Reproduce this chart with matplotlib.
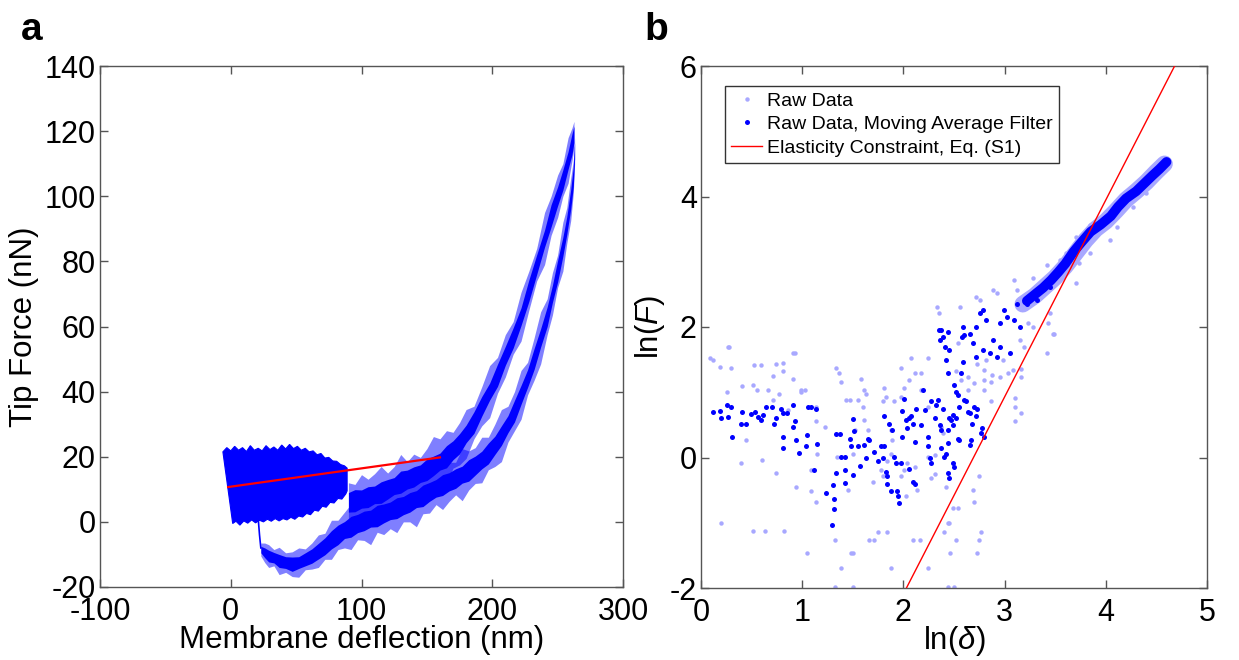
import numpy as np
import matplotlib
matplotlib.use("Agg")
import matplotlib.pyplot as plt

plt.rcParams['font.family'] = ['Liberation Sans', 'DejaVu Sans']
plt.rcParams['mathtext.fontset'] = 'custom'
plt.rcParams['mathtext.rm'] = 'Liberation Sans'
plt.rcParams['mathtext.it'] = 'Liberation Sans:italic'
plt.rcParams['axes.unicode_minus'] = False

# ---------------- Panel a data ----------------
# dense oscillating block (envelope)
block_top_x = [-6, -3, 0, 3, 6, 9, 12, 15, 18, 21, 24, 27, 30, 33, 36, 39, 42, 45, 48, 51, 54, 57, 60, 63, 66, 69, 72, 75, 78, 81, 84, 87, 89]
block_top_F = [21.5, 22.8, 21.8, 23.2, 22.0, 22.8, 21.6, 23.4, 22.0, 22.6, 21.8, 23.4, 22.2, 23.0, 22.0, 23.6, 22.4, 23.8, 22.5, 23.2, 22.0, 22.6, 21.5, 21.8, 20.6, 21.0, 19.6, 19.8, 18.7, 18.6, 17.6, 17.2, 16.5]
block_bot_x = [1.5, 4, 7, 10, 13, 16, 19, 22, 25, 28, 31, 34, 37, 40, 43, 46, 49, 52, 55, 58, 61, 64, 67, 70, 73, 76, 79, 82, 85, 88, 89]
block_bot_F = [-0.5, 0.2, -1.0, 0.3, -0.4, 0.6, -0.3, 0.5, 0.0, 0.8, 0.2, 1.0, 0.3, 1.0, 0.6, 1.4, 0.8, 1.8, 1.5, 2.6, 2.2, 3.6, 3.3, 4.8, 4.5, 6.0, 5.8, 7.2, 7.0, 8.6, 9.5]

# drop from block to trough
drop_x = [21, 22, 23]
drop_F = [1.0, -4.0, -8.0]

# lower (retract) branch: centre and noise half widths
lb_x = [23, 26, 29, 33, 37, 42, 47, 52, 57, 62, 67, 72, 77, 82, 87, 92, 97, 102, 107, 112, 117, 122, 127, 132, 137, 142, 147, 152, 157, 162, 167, 172, 177, 182, 187, 192, 197, 202, 207, 212, 217, 222, 227, 232, 237, 242, 246, 250, 254, 257, 260, 262, 263]
lb_F = [-8.5, -9.5, -10.5, -11, -12, -12.5, -13, -12.5, -11.5, -10.5, -9, -7.5, -5.5, -4, -2.5, -1.5, -0.5, 0.3, 1, 1.8, 2.6, 3.4, 4.2, 5, 6, 7, 8, 9.2, 10.3, 11.3, 12.3, 13.3, 14.5, 15.8, 17.3, 19, 21, 23.5, 26.5, 30, 34, 39, 44, 50, 56.5, 63, 70, 77, 84.5, 91, 99, 106, 114]
lb_core = [1.0, 1.5, 1.8, 1.6, 2.0, 1.8, 2.2, 1.8, 2.0, 2.2, 2.4, 2.6, 2.8, 3.0, 2.6, 3.2, 2.8, 3.0, 2.6, 3.3, 2.9, 2.7, 3.2, 2.8, 3.0, 2.6, 3.3, 2.9, 2.7, 3.2, 2.8, 3.0, 2.6, 3.3, 2.9, 2.7, 3.2, 2.8, 3.0, 2.6, 3.3, 2.9, 2.7, 3.2, 2.8, 3.0, 2.6, 3.3, 2.9, 2.7, 3.0, 3.0, 2.5]
lb_outer = [2.0, 3.0, 3.5, 2.5, 4.2, 3.0, 3.8, 4.5, 3.2, 4.0, 5.0, 4.0, 6.0, 4.5, 5.5, 7.0, 5.0, 6.0, 8.0, 5.0, 6.5, 5.5, 7.5, 5.0, 6.0, 8.5, 5.5, 6.5, 5.0, 7.5, 6.0, 5.0, 8.0, 6.0, 5.5, 7.0, 5.0, 6.5, 8.0, 5.5, 6.0, 7.5, 5.0, 6.5, 8.0, 5.5, 6.5, 5.0, 7.5, 5.5, 6.5, 5.0, 4.0]

# upper (approach) branch
ub_x = [90, 95, 100, 105, 110, 115, 120, 125, 130, 135, 140, 145, 150, 155, 160, 165, 170, 175, 180, 186, 192, 198, 204, 210, 216, 222, 228, 234, 240, 245, 250, 254, 258, 261, 262.5]
ub_F = [6, 6.5, 7, 7.6, 8.3, 9, 10, 11, 12.2, 13, 13.8, 14.8, 16, 17.2, 18.5, 20, 22, 24, 27, 30.5, 35.5, 40, 45, 51, 56.5, 63, 71, 79, 87, 94, 100, 105, 111, 116, 119]
ub_core = [3.0, 3.4, 2.8, 3.2, 2.7, 3.3, 3.0, 2.6, 3.4, 2.9, 3.1, 2.7, 3.3, 3.0, 2.6, 3.4, 2.9, 3.1, 2.7, 3.3, 3.0, 2.6, 3.4, 2.9, 3.1, 2.7, 3.3, 3.0, 2.6, 3.4, 2.9, 3.1, 2.7, 3.2, 2.5]
ub_outer = [6.0, 5.0, 7.5, 5.5, 6.5, 8.0, 5.0, 6.0, 8.5, 5.5, 7.0, 5.0, 6.5, 9.0, 7.0, 8.0, 5.5, 6.5, 7.5, 5.0, 6.0, 8.0, 5.5, 6.5, 5.0, 7.5, 6.0, 5.0, 8.0, 6.0, 6.5, 5.0, 7.0, 5.0, 4.0]

# red fit line in panel a
fit_a_x = [-2, 160]
fit_a_F = [10.7, 19.8]

# ---------------- Panel b data ----------------
raw_x = [0.12, 0.19, 0.28, 0.30, 0.26, 0.41, 0.52, 0.59, 0.51, 0.55, 0.66, 0.71, 0.74, 0.81, 0.81, 0.91, 0.93,
         0.77, 0.71, 0.86, 0.99, 1.03, 0.99, 1.14, 1.14, 1.15, 1.23, 1.33, 1.36, 1.38, 1.43, 1.47, 1.55, 1.58,
         1.61, 1.63, 1.60, 1.52, 1.50, 1.45, 1.34, 0.40, 0.60, 0.74, 0.44, 0.94, 1.09, 1.09, 1.14, 0.20, 0.51,
         0.63, 0.82, 1.05, 1.32, 1.38, 1.48, 1.50, 1.32, 1.50, 1.66, 1.71, 1.75, 1.84, 1.88, 1.70, 1.78, 1.80,
         1.84, 1.88, 1.98, 2.01, 2.04, 2.03, 2.09, 2.16, 2.24, 2.11, 2.13, 2.24, 2.31, 2.42, 2.44, 2.45, 2.40,
         2.49, 2.54, 2.52, 2.46, 2.44, 2.50, 2.69, 2.70, 2.75, 2.77, 2.75, 2.73, 2.87, 3.10, 3.10, 3.16, 3.16,
         2.80, 2.80, 2.80, 2.82, 2.73, 2.87, 2.88, 2.95, 2.98, 3.03, 3.08, 2.54, 2.57, 2.52, 1.98, 2.01, 2.06,
         2.08, 2.11, 2.17, 2.17, 2.24, 1.81, 1.83, 1.80, 1.91, 1.98, 1.61, 1.65, 1.88, 1.89, 2.24, 2.31, 2.27,
         2.39, 2.37, 2.64, 2.64, 2.70, 3.49, 3.10, 3.16, 3.43, 3.48, 3.71, 3.74, 3.84, 4.04, 4.11, 2.33, 2.35,
         2.56, 2.72, 2.76, 2.89, 2.92, 3.09, 3.12, 3.28, 3.42, 3.55, 3.61, 3.71, 3.84, 4.27, 4.40, 4.54, 3.15,
         3.19, 3.23, 3.28, 3.45, 3.42, 0.09, 0.27, 0.91]
raw_y = [1.49, 1.39, 1.70, 1.37, 1.01, 1.09, 1.42, 1.41, 1.11, 1.04, 1.04, 1.25, 1.44, 1.45, 1.33, 1.21, 1.60,
         0.98, 0.88, 0.73, 1.03, 1.04, 1.00, 0.78, 0.56, 0.06, 0.47, 1.37, 1.30, 1.15, 0.88, 0.88, 0.88, 1.21,
         1.03, 0.98, 0.77, 0.42, 0.06, -0.50, 0.01, -0.08, -0.04, -0.24, 0.27, -0.45, -0.19, -0.51, -0.68, -1.00, -1.13,
         -1.13, -1.13, -1.47, -1.27, -1.69, -1.47, -1.47, -1.98, -1.98, -1.27, -1.27, -1.14, -1.14, -1.69, -0.37, -0.19, -0.29,
         -0.06, 0.06, -0.29, -0.19, -0.09, -0.59, -1.27, -1.27, -1.69, -0.14, -0.50, 0.78, -0.25, -0.45, -1.01, -1.00, -1.14,
         -0.78, -0.78, -1.27, -1.47, -1.98, -1.98, -0.50, -0.68, -0.29, -1.14, -1.27, -1.47, 0.86, 0.91, 0.56, 1.24, 1.35,
         1.03, 1.19, 1.34, 1.49, 1.44, 1.16, 1.26, 1.24, 1.49, 1.29, 1.34, 1.75, 1.19, 1.32, 1.37, 1.06, 1.19,
         1.52, 1.29, 1.29, 1.03, 1.52, 1.06, 0.93, 0.86, 0.86, 0.93, 0.58, 0.42, 0.42, 0.27, 0.01, 0.04, -0.32,
         0.37, 0.47, 1.03, 1.24, 1.14, 1.90, 0.78, 0.68, 2.06, 1.90, 2.67, 2.98, 3.13, 3.33, 3.54, 2.31, 2.21,
         2.31, 2.46, 2.41, 2.57, 2.52, 2.72, 2.57, 2.75, 2.95, 3.03, 3.13, 3.38, 3.56, 3.84, 4.05, 4.46, 1.80,
         1.70, 2.06, 2.00, 2.21, 1.60, 1.52, 1.70, 1.60]

filt_x = [0.12, 0.19, 0.20, 0.26, 0.30, 0.27, 0.31, 0.40, 0.41, 0.44, 0.49, 0.53, 0.56, 0.59, 0.61, 0.64, 0.70,
          0.72, 0.74, 0.79, 0.81, 0.81, 0.81, 0.85, 0.91, 0.93, 0.91, 0.94, 0.97, 1.04, 1.05, 1.06, 1.09, 1.14,
          1.15, 1.12, 1.24, 1.29, 1.31, 1.31, 1.30, 1.33, 1.33, 1.37, 1.38, 1.42, 1.42, 1.42, 1.47, 1.48, 1.50,
          1.50, 1.51, 1.55, 1.57, 1.61, 1.63, 1.65, 1.66, 1.71, 1.75, 1.78, 1.80, 1.81, 1.83, 1.84, 1.84, 1.81,
          1.86, 1.89, 1.88, 1.91, 1.93, 1.94, 1.95, 1.96, 1.98, 1.99, 1.99, 2.01, 2.04, 2.03, 2.06, 2.08, 2.09,
          2.11, 2.06, 2.09, 2.11, 2.12, 2.17, 2.19, 2.21, 2.24, 2.24, 2.26, 2.27, 2.27, 2.31, 2.32, 2.34, 2.36,
          2.37, 2.37, 2.39, 2.40, 2.42, 2.44, 2.44, 2.44, 2.45, 2.45, 2.47, 2.49, 2.49, 2.50, 2.49, 2.54, 2.55,
          2.50, 2.52, 2.52, 2.54, 2.55, 2.57, 2.59, 2.60, 2.62, 2.64, 2.66, 2.66, 2.67, 2.68, 2.70, 2.72, 2.73,
          2.77, 2.78, 2.80, 2.42, 2.44, 2.45, 2.37, 2.60, 2.35, 2.39, 2.44, 2.36, 2.41, 2.59, 2.58, 2.66, 2.72,
          2.76, 2.79, 2.82, 2.69, 2.79, 2.86, 2.72, 2.89, 2.95, 2.99, 3.02, 3.09, 3.12, 3.15, 3.05, 2.95, 2.92,
          3.22, 3.32, 3.45, 3.55]
filt_y = [0.70, 0.72, 0.60, 0.80, 0.77, 0.62, 0.32, 0.51, 0.70, 0.52, 0.67, 0.70, 0.62, 0.58, 0.65, 0.77, 0.77,
          0.51, 0.60, 0.75, 0.68, 0.32, 0.14, 0.68, 0.80, 0.56, 0.47, 0.27, 0.07, 0.17, 0.34, 0.77, 0.77, 0.75,
          0.21, -0.19, -0.55, -1.04, -0.79, -0.63, -0.42, -0.24, 0.36, 0.36, 0.01, 0.01, -0.39, -0.19, 0.29, 0.17, -0.27,
          0.59, 0.40, 0.17, -0.13, 0.19, -0.01, 0.28, 0.27, 0.09, -0.06, 0.17, -0.01, 0.17, -0.22, -0.29, -0.41, 0.63,
          0.52, 0.42, -0.52, 0.01, -0.09, -0.52, -0.59, -0.70, -0.09, 0.32, 0.72, 0.89, 0.45, 0.58, 0.60, 0.63, 0.52,
          0.23, -0.17, -0.37, -0.40, 0.75, 0.50, 1.03, 0.73, 0.32, 0.17, -0.01, -0.09, 0.86, 0.60, 0.80, 0.88, 0.50,
          0.42, 0.14, 0.75, 0.01, 0.06, 0.22, 0.42, -0.24, 0.60, -0.32, 0.58, 0.65, -0.09, -0.14, 0.50, 0.29, 0.27,
          1.11, 1.01, 0.60, 0.96, 0.78, 1.29, 1.47, 0.88, 0.86, 0.70, 0.68, 0.19, 0.27, 0.52, 0.78, 0.63, 0.74,
          0.37, 0.45, 0.32, 1.49, 1.29, 1.65, 1.95, 1.88, 1.95, 1.85, 1.93, 1.80, 1.70, 2.00, 1.85, 1.90, 2.00,
          2.21, 2.26, 2.11, 1.75, 1.65, 1.60, 1.54, 1.80, 2.06, 2.26, 2.16, 2.11, 2.36, 2.00, 1.60, 1.70, 1.54,
          2.36, 2.41, 2.62, 2.87]

# dense high-force streaks
filt_band_x = [3.22, 3.30, 3.38, 3.46, 3.53, 3.60, 3.68, 3.76, 3.85, 3.95, 4.05, 4.12, 4.20, 4.30, 4.38, 4.46, 4.53, 4.60]
filt_band_y = [2.40, 2.50, 2.60, 2.72, 2.84, 2.97, 3.15, 3.30, 3.46, 3.57, 3.70, 3.84, 3.97, 4.08, 4.20, 4.32, 4.42, 4.53]
raw_band_x = [3.18, 3.30, 3.40, 3.50, 3.60, 3.70, 3.80, 3.90, 4.00, 4.10, 4.20, 4.30, 4.40, 4.50, 4.58]
raw_band_y = [2.35, 2.48, 2.62, 2.76, 2.93, 3.13, 3.33, 3.50, 3.62, 3.78, 3.95, 4.08, 4.22, 4.38, 4.50]

# elasticity constraint line
elastic_x = [2.03, 4.68]
elastic_y = [-2.0, 6.0]

BLUE = '#0000ff'
LIGHT = '#a8a8ff'
SPINE = '#555555'

fig = plt.figure(figsize=(12.39, 6.6), dpi=100)
ax1 = fig.add_axes([100/1239, 1-587/660, 523/1239, 521/660])
ax2 = fig.add_axes([701/1239, 1-588/660, 506/1239, 522/660])

# ---- panel a ----
poly_x = list(block_top_x) + list(block_bot_x[::-1])
poly_F = list(block_top_F) + list(block_bot_F[::-1])
ax1.fill(poly_x, poly_F, color=BLUE, lw=0.8, zorder=2)
ax1.plot(drop_x, drop_F, color=BLUE, lw=1.2, zorder=2)

for bx, bF, core, outer in [(lb_x, lb_F, lb_core, lb_outer), (ub_x, ub_F, ub_core, ub_outer)]:
    bx = np.array(bx); bF = np.array(bF); core = np.array(core); outer = np.array(outer)
    ax1.fill_between(bx, bF - outer, bF + outer, color=BLUE, alpha=0.5, lw=0, zorder=2)
    ax1.fill_between(bx, bF - core, bF + core, color=BLUE, alpha=1.0, lw=0, zorder=2)

ax1.plot(fit_a_x, fit_a_F, color='red', lw=1.6, zorder=3)

ax1.set_xlim(-100, 300)
ax1.set_ylim(-20, 140)
ax1.set_xticks([-100, 0, 100, 200, 300])
ax1.set_yticks(np.arange(-20, 141, 20))
ax1.set_xlabel('Membrane deflection (nm)', fontsize=22.5, labelpad=-1)
ax1.set_ylabel('Tip Force (nN)', fontsize=22.5, labelpad=4)

# ---- panel b ----
ax2.plot(raw_band_x, raw_band_y, color=LIGHT, lw=12, solid_capstyle='round', zorder=1)
ax2.plot(raw_x, raw_y, 'o', color=LIGHT, ms=3.2, mec='none', zorder=1, label='Raw Data')
ax2.plot(filt_band_x, filt_band_y, color=BLUE, lw=7, solid_capstyle='round', zorder=2)
ax2.plot(filt_x, filt_y, 'o', color=BLUE, ms=3.6, mec='none', zorder=2,
         label='Raw Data, Moving Average Filter')
ax2.plot(elastic_x, elastic_y, color='red', lw=1.0, zorder=3,
         label='Elasticity Constraint, Eq. (S1)')

ax2.set_xlim(0, 5)
ax2.set_ylim(-2, 6)
ax2.set_xticks([0, 1, 2, 3, 4, 5])
ax2.set_yticks([-2, 0, 2, 4, 6])
ax2.set_xlabel(r'ln($\delta$)', fontsize=22.5, labelpad=-3)
ax2.set_ylabel(r'ln($F$)', fontsize=22.5, labelpad=2)

leg = ax2.legend(loc='upper left', bbox_to_anchor=(0.0474, 0.9617), fontsize=14,
                 frameon=True, fancybox=False, edgecolor='#333333', framealpha=1,
                 borderpad=0.32, labelspacing=0.3, handlelength=1.6, handletextpad=0.25,
                 borderaxespad=0, markerscale=1.0)
leg.get_frame().set_linewidth(1.0)

for ax in (ax1, ax2):
    for s in ax.spines.values():
        s.set_color(SPINE)
        s.set_linewidth(1.0)
    ax.tick_params(direction='in', length=6, width=1, color=SPINE, labelsize=22,
                   top=True, right=True)
    ax.tick_params(axis='x', pad=7)
    ax.tick_params(axis='y', pad=3)

fig.text(32/1239, 1-40/660, 'a', fontsize=28, fontweight='bold', ha='center', va='baseline')
fig.text(656/1239, 1-40/660, 'b', fontsize=28, fontweight='bold', ha='center', va='baseline')

fig.savefig('out.png', dpi=100)
